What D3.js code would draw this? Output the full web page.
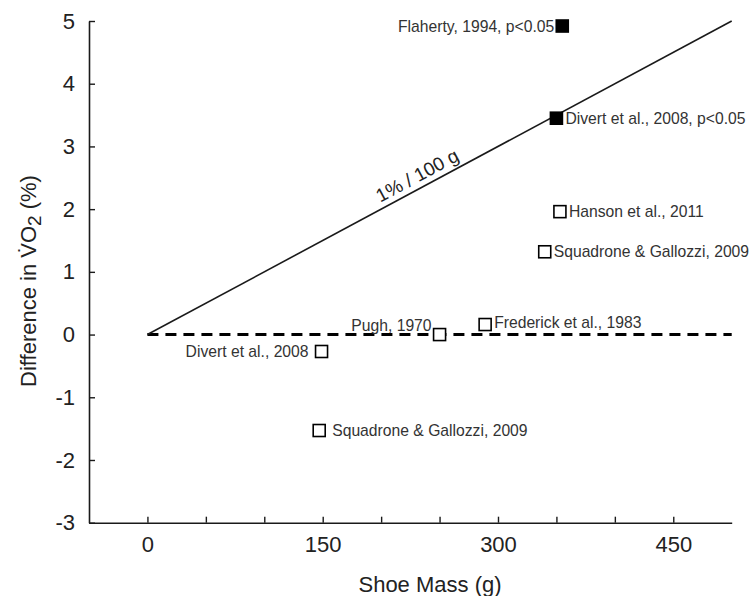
<!DOCTYPE html>
<html>
<head>
<meta charset="utf-8">
<script src="https://cdn.jsdelivr.net/npm/d3@7"></script>
<style>
  body { margin: 0; background: #fff; }
  svg { display: block; font-family: "Liberation Sans", Arial, sans-serif; }
</style>
</head>
<body>
<svg id="chart" width="753" height="596"></svg>
<script>
// ---- data ----
const studies = ["Flaherty, 1994, p<0.05", "Divert et al., 2008, p<0.05", "Hanson et al., 2011",
                 "Squadrone & Gallozzi, 2009", "Pugh, 1970", "Frederick et al., 1983",
                 "Divert et al., 2008", "Squadrone & Gallozzi, 2009"];
const shoeMass = [355, 350, 353, 340, 250, 289, 149, 147];
const vo2Diff = [4.92, 3.45, 1.96, 1.32, 0.0, 0.16, -0.27, -1.53];
const significant = [true, true, false, false, false, false, false, false];
const labelSide = ["left", "right", "right", "right", "above-left", "right", "left", "right"];
const xTicks = [0, 50, 100, 150, 200, 250, 300, 350, 400, 450];
const xLabeled = [0, 150, 300, 450];
const yTicks = [-3, -2, -1, 0, 1, 2, 3, 4, 5];
const refLineX = [0, 500];      // 1% per 100 g
const refLineY = [0, 5];
const zeroLineX = [0, 500];
const zeroLineY = [0, 0];

// ---- chart ----
const svg = d3.select("#chart");
const x = d3.scaleLinear().domain([-50, 500]).range([89, 731.7]);
const y = d3.scaleLinear().domain([-3, 5]).range([522.7, 21]);
const ink = "#1a1a1a";

// axes
const xAxis = d3.axisBottom(x).tickValues(xTicks).tickSizeInner(-6).tickSizeOuter(0)
  .tickPadding(14).tickFormat(d => xLabeled.includes(d) ? d : "");
const gx = svg.append("g").attr("transform", `translate(0,${y(-3)})`).call(xAxis);
const yAxis = d3.axisLeft(y).tickValues(yTicks).tickSizeInner(-6).tickSizeOuter(0)
  .tickPadding(14).tickFormat(d => d);
const gy = svg.append("g").attr("transform", `translate(${x(-50)},0)`).call(yAxis);
[gx, gy].forEach(g => {
  g.select(".domain").attr("stroke", ink).attr("stroke-width", 1.6);
  g.selectAll(".tick line").attr("stroke", ink).attr("stroke-width", 1.4);
  g.selectAll(".tick text").attr("fill", "#222").style("font-size", "22px")
    .style("font-family", "'Liberation Sans', Arial, sans-serif");
});
gx.selectAll(".tick text").attr("dy", "0.71em").attr("y", 14);

// axis titles
svg.append("text").attr("x", 430).attr("y", 592).attr("text-anchor", "middle")
  .attr("fill", "#222").style("font-size", "22px").text("Shoe Mass (g)");
const yt = svg.append("text").attr("transform", "translate(36,281) rotate(-90)")
  .attr("text-anchor", "middle").attr("fill", "#222").style("font-size", "22px");
yt.append("tspan").text("Difference in V\u0307O");
yt.append("tspan").attr("dy", 5).style("font-size", "19px").text("2");
yt.append("tspan").attr("dy", -5).text(" (%)");

// reference lines
const line = d3.line().x(d => x(d[0])).y(d => y(d[1]));
svg.append("path").datum(d3.zip(zeroLineX, zeroLineY)).attr("d", line)
  .attr("stroke", "#000").attr("stroke-width", 3).attr("stroke-dasharray", "11,7").attr("fill", "none");
svg.append("path").datum(d3.zip(refLineX, refLineY)).attr("d", line)
  .attr("stroke", ink).attr("stroke-width", 1.6).attr("fill", "none");

// line annotation
const angle = Math.atan2(y(5) - y(0), x(500) - x(0)) * 180 / Math.PI;
const ax = x(236), ay = y(2.36);
svg.append("text").attr("transform", `translate(${ax},${ay}) rotate(${angle})`)
  .attr("text-anchor", "middle").attr("dy", -6).attr("fill", "#222")
  .style("font-size", "19px").text("1% / 100 g");

// markers
const s = 12;
const pts = studies.map((name, i) => ({name, m: shoeMass[i], v: vo2Diff[i], sig: significant[i], side: labelSide[i]}));
svg.selectAll("rect.pt").data(pts).join("rect").attr("class", "pt")
  .attr("x", d => x(d.m) - s / 2).attr("y", d => y(d.v) - s / 2)
  .attr("width", s).attr("height", s)
  .attr("fill", d => d.sig ? "#000" : "#fff")
  .attr("stroke", "#000").attr("stroke-width", 1.6);

svg.selectAll("text.lab").data(pts).join("text").attr("class", "lab")
  .attr("x", d => {
    if (d.side === "right") return x(d.m) + s / 2 + (d.m < 200 ? 7 : 3);
    if (d.side === "above-left") return x(d.m) - s / 2 - 2;
    return x(d.m) - s / 2 - (d.m < 200 ? 7 : 2);
  })
  .attr("y", d => y(d.v) + (d.side === "above-left" ? -9 : (d.name.startsWith("Frederick") ? -2 : 0)))
  .attr("dy", "0.35em")
  .attr("text-anchor", d => d.side === "right" ? "start" : "end")
  .attr("fill", "#333").style("font-size", "15.7px").text(d => d.name);
</script>
</body>
</html>
